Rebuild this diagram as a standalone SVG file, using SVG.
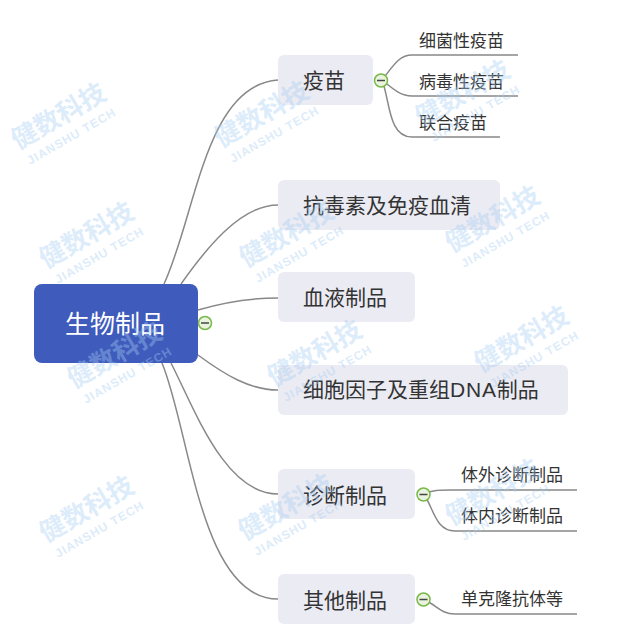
<svg xmlns="http://www.w3.org/2000/svg" width="640" height="639" viewBox="0 0 640 639">
<style>
text{font-family:"Noto Sans CJK SC","Noto Sans",sans-serif;fill:#333}
.n{fill:#ebebf3}
.t{font-size:21px}
.s{font-size:17px}
.c{fill:none;stroke:#888;stroke-width:1.5}
.o{fill:#eaf3dd;stroke:#78b84a;stroke-width:1.5}
.m{stroke:#444;stroke-width:1.5}
.w1{font-size:26px;font-weight:700;fill:#a6cdf2;fill-opacity:.4}
.w2{font-family:"Liberation Sans",sans-serif;font-size:12px;font-weight:700;fill:#a6cdf2;fill-opacity:.4;letter-spacing:1px}
.l{font-family:"Liberation Sans",sans-serif;letter-spacing:.8px}
</style>
<rect width="640" height="639" fill="#fff"/>
<g id="connectors">
<path class="c" d="M164 284C196 215 205 85 278 80"/>
<path class="c" d="M181 284C205 250 240 205 278 205"/>
<path class="c" d="M198 310C225 302 255 298 278 298"/>
<path class="c" d="M198 355C225 375 250 390 278 390"/>
<path class="c" d="M171 363C195 410 225 494 278 494"/>
<path class="c" d="M162 363C190 430 200 599 278 599"/>
<path class="c" d="M382 80C392 68 398 55 412 55H518"/>
<path class="c" d="M382 80C392 88 400 96 412 96H518"/>
<path class="c" d="M382 80C390 100 388 137 412 137H500"/>
<path class="c" d="M424 494C432 490 440 490 450 490H577"/>
<path class="c" d="M424 494C434 510 436 531 455 531H577"/>
<path class="c" d="M424 600C436 604 440 614 455 614H577"/>
</g>
<g id="root">
<rect x="34" y="284" width="164" height="79" rx="8" fill="#3f5bbc"/>
<text x="115" y="333" text-anchor="middle" font-size="25" style="fill:#fff">生物制品</text>
<circle class="o" cx="205" cy="323" r="6.5"/><path class="m" d="M201 323H209"/>
</g>
<g id="n1">
<rect class="n" x="278" y="55" width="95" height="50" rx="6"/>
<text class="t" x="303" y="88">疫苗</text>
<circle class="o" cx="381" cy="80.500" r="6.500"/><path class="m" d="M377 80.500H385"/>
</g>
<g id="n1a"><text class="s" x="419" y="47">细菌性疫苗</text></g>
<g id="n1b"><text class="s" x="419" y="88">病毒性疫苗</text></g>
<g id="n1c"><text class="s" x="419" y="129">联合疫苗</text></g>
<g id="n2">
<rect class="n" x="278" y="180" width="222" height="50" rx="6"/>
<text class="t" x="303" y="213">抗毒素及免疫血清</text>
</g>
<g id="n3">
<rect class="n" x="278" y="272" width="137" height="50" rx="6"/>
<text class="t" x="303" y="305">血液制品</text>
</g>
<g id="n4">
<rect class="n" x="278" y="365" width="290" height="50" rx="6"/>
<text class="t" x="303" y="397">细胞因子及重组<tspan class="l">DNA</tspan>制品</text>
</g>
<g id="n5">
<rect class="n" x="278" y="469" width="137" height="50" rx="6"/>
<text class="t" x="303" y="503">诊断制品</text>
<circle class="o" cx="423.500" cy="494.500" r="6.500"/><path class="m" d="M419.500 494.500H427.500"/>
</g>
<g id="n5a"><text class="s" x="461" y="481">体外诊断制品</text></g>
<g id="n5b"><text class="s" x="461" y="522">体内诊断制品</text></g>
<g id="n6">
<rect class="n" x="278" y="574" width="137" height="50" rx="6"/>
<text class="t" x="303" y="608">其他制品</text>
<circle class="o" cx="423.500" cy="599.500" r="6.500"/><path class="m" d="M419.500 599.500H427.500"/>
</g>
<g id="n6a"><text class="s" x="461" y="605">单克隆抗体等</text></g>
<g id="watermarks">
<text class="w1" transform="translate(18 150) rotate(-30)">健数科技</text><text class="w2" transform="translate(30 165) rotate(-30)">JIANSHU TECH</text>
<text class="w1" transform="translate(221 148) rotate(-30)">健数科技</text><text class="w2" transform="translate(233 163) rotate(-30)">JIANSHU TECH</text>
<text class="w1" transform="translate(422 127) rotate(-30)">健数科技</text><text class="w2" transform="translate(434 142) rotate(-30)">JIANSHU TECH</text>
<text class="w1" transform="translate(46 269) rotate(-30)">健数科技</text><text class="w2" transform="translate(58 284) rotate(-30)">JIANSHU TECH</text>
<text class="w1" transform="translate(246 268) rotate(-30)">健数科技</text><text class="w2" transform="translate(258 283) rotate(-30)">JIANSHU TECH</text>
<text class="w1" transform="translate(452 253) rotate(-30)">健数科技</text><text class="w2" transform="translate(464 268) rotate(-30)">JIANSHU TECH</text>
<text class="w1" transform="translate(74 389) rotate(-30)">健数科技</text><text class="w2" transform="translate(86 404) rotate(-30)">JIANSHU TECH</text>
<text class="w1" transform="translate(274 387) rotate(-30)">健数科技</text><text class="w2" transform="translate(286 402) rotate(-30)">JIANSHU TECH</text>
<text class="w1" transform="translate(481 373) rotate(-30)">健数科技</text><text class="w2" transform="translate(493 388) rotate(-30)">JIANSHU TECH</text>
<text class="w1" transform="translate(46 543) rotate(-30)">健数科技</text><text class="w2" transform="translate(58 558) rotate(-30)">JIANSHU TECH</text>
<text class="w1" transform="translate(245 541) rotate(-30)">健数科技</text><text class="w2" transform="translate(257 556) rotate(-30)">JIANSHU TECH</text>
<text class="w1" transform="translate(452 526) rotate(-30)">健数科技</text><text class="w2" transform="translate(464 541) rotate(-30)">JIANSHU TECH</text>
</g>
</svg>
